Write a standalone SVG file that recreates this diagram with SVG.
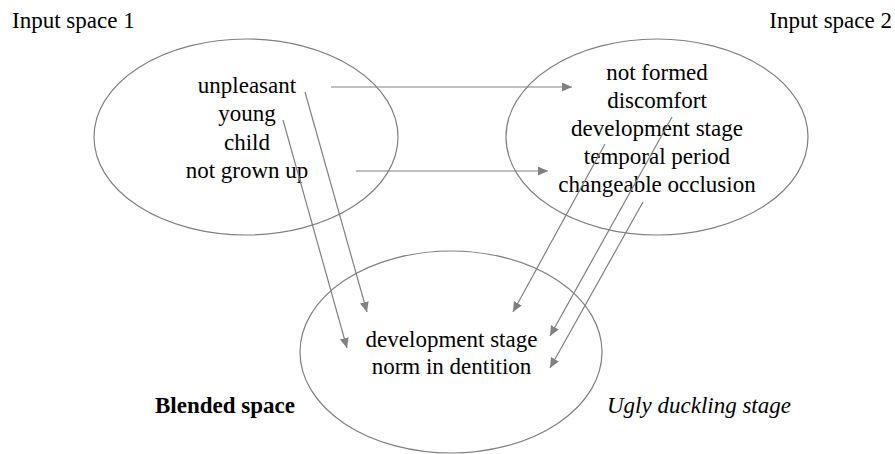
<svg xmlns="http://www.w3.org/2000/svg" width="895" height="454" viewBox="0 0 895 454">
<style>
.e{fill:none;stroke:#808080;stroke-width:1.2}
.t{font-family:'Liberation Serif',Tinos,'Times New Roman',Times,'DejaVu Serif',serif;font-size:23px;fill:#000}
.c{text-anchor:middle}
.a{fill:none;stroke:#808080;stroke-width:1.2;marker-end:url(#ah)}
</style>
<defs>
<marker id="ah" markerUnits="userSpaceOnUse" markerWidth="11" markerHeight="10" refX="10" refY="4.5" orient="auto" viewBox="0 0 11 10">
<path d="M0,0 L10,4.5 L0,9 z" fill="#808080"/>
</marker>
</defs>
<rect width="895" height="454" fill="#fff"/>
<g font-family="Liberation Serif, Times New Roman, serif">
<text class="t" x="12" y="28">Input space 1</text>
<text class="t" x="892" y="28" text-anchor="end">Input space 2</text>
<g id="input1">
<ellipse class="e" cx="246" cy="137" rx="152" ry="98"/>
<text class="t c" x="247" y="93">unpleasant</text>
<text class="t c" x="247" y="121">young</text>
<text class="t c" x="247" y="150">child</text>
<text class="t c" x="247" y="178">not grown up</text>
</g>
<g id="input2">
<ellipse class="e" cx="657" cy="137" rx="151" ry="98"/>
<text class="t c" x="657" y="80">not formed</text>
<text class="t c" x="657" y="108">discomfort</text>
<text class="t c" x="657" y="136">development stage</text>
<text class="t c" x="657" y="164">temporal period</text>
<text class="t c" x="657" y="192">changeable occlusion</text>
</g>
<g id="blended">
<ellipse class="e" cx="451" cy="352" rx="151" ry="101"/>
<text class="t c" x="451.5" y="347">development stage</text>
<text class="t c" x="451.5" y="374">norm in dentition</text>
<text class="t" x="155" y="413" font-weight="bold">Blended space</text>
<text class="t" x="607" y="413" font-style="italic">Ugly duckling stage</text>
</g>
</g>
<g id="connectors">
<line class="a" x1="331" y1="87" x2="572" y2="87"/>
<line class="a" x1="356" y1="171" x2="548" y2="171"/>
<line class="a" x1="305" y1="92" x2="367" y2="312"/>
<line class="a" x1="283" y1="120" x2="347" y2="348"/>
<line class="a" x1="605" y1="144" x2="513" y2="312"/>
<line class="a" x1="672" y1="117" x2="550" y2="336"/>
<line class="a" x1="643" y1="202" x2="550" y2="368"/>
</g>
</svg>
